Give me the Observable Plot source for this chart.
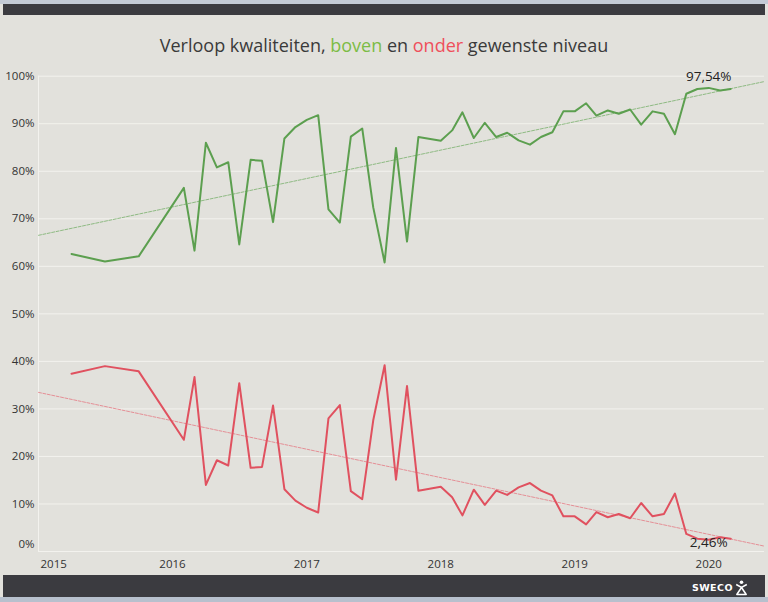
<!DOCTYPE html>
<html>
<head>
<meta charset="utf-8">
<script src="https://cdn.jsdelivr.net/npm/d3@7"></script>
<script src="https://cdn.jsdelivr.net/npm/@observablehq/plot@0.6"></script>
<style>
  html, body { margin: 0; padding: 0; }
  body { width: 768px; height: 602px; background: #e2e1dc; position: relative; overflow: hidden; font-family: "Open Sans", sans-serif; }
  #topline { position: absolute; left: 0; top: 0; width: 768px; height: 4px; background: #c3cad5; }
  #topbar { position: absolute; left: 3px; top: 4px; width: 762px; height: 11px; background: #3b3b40; }
  #title { position: absolute; left: 0; top: 32px; width: 768px; text-align: center; font-size: 18px; line-height: 26px; color: #3a3a3a; }
  #title .g { color: #7cbc45; }
  #title .r { color: #ef4f5b; }
  #chart { position: absolute; left: 0; top: 20px; }
  #botbar { position: absolute; left: 3px; top: 575px; width: 762px; height: 22px; background: #3b3b40; }
  #botline { position: absolute; left: 0; top: 597px; width: 768px; height: 5px; background: #b7c0cd; }
  #logo { position: absolute; left: 692px; top: 582px; color: #fff; font-weight: bold; font-size: 9.5px; letter-spacing: 0.4px; font-family: "DejaVu Sans", sans-serif; }
  #icon { position: absolute; left: 735px; top: 580px; }
</style>
</head>
<body>
<div id="topline"></div>
<div id="topbar"></div>
<div id="title">Verloop kwaliteiten, <span class="g">boven</span> en <span class="r">onder</span> gewenste niveau</div>
<div id="chart"></div>
<div id="botbar"></div>
<div id="botline"></div>
<div id="logo">SWECO</div>
<svg id="icon" width="13" height="16" viewBox="0 0 13 16">
  <circle cx="6.5" cy="2.2" r="1.8" fill="#fff"/>
  <path d="M1.2 4.5 L6.5 7.5 L11.8 4.5" stroke="#fff" stroke-width="1.5" fill="none"/>
  <path d="M6.5 7.5 L1.8 14.5 L11.2 14.5 Z" stroke="#fff" stroke-width="1.5" fill="none" stroke-linejoin="round"/>
</svg>
<script>
// ---- data ----
const months = [
  "2015-04","2015-07","2015-10",
  "2016-02","2016-03","2016-04","2016-05","2016-06","2016-07","2016-08","2016-09","2016-10","2016-11","2016-12",
  "2017-01","2017-02","2017-03","2017-04","2017-05","2017-06","2017-07","2017-08","2017-09","2017-10","2017-11",
  "2018-01","2018-02","2018-03","2018-04","2018-05","2018-06","2018-07","2018-08","2018-09","2018-10","2018-11","2018-12",
  "2019-01","2019-02","2019-03","2019-04","2019-05","2019-06","2019-07","2019-08","2019-09","2019-10","2019-11","2019-12",
  "2020-01","2020-02","2020-03"
];
const boven = [
  62.6, 61.0, 62.1,
  76.5, 63.3, 86.0, 80.8, 81.9, 64.6, 82.4, 82.2, 69.3, 86.9, 89.3,
  90.8, 91.8, 72.0, 69.2, 87.3, 89.0, 72.4, 60.8, 84.9, 65.2, 87.2,
  86.4, 88.6, 92.4, 87.0, 90.2, 87.2, 88.1, 86.5, 85.6, 87.2, 88.2, 92.6,
  92.6, 94.3, 91.7, 92.8, 92.1, 93.0, 89.8, 92.6, 92.1, 87.8, 96.3, 97.3,
  97.54, 97.0, 97.3
];
const onder = [
  37.4, 39.0, 37.9,
  23.5, 36.7, 14.0, 19.2, 18.1, 35.4, 17.6, 17.8, 30.7, 13.1, 10.7,
  9.2, 8.2, 28.0, 30.8, 12.7, 11.0, 27.6, 39.2, 15.1, 34.8, 12.8,
  13.6, 11.4, 7.6, 13.0, 9.8, 12.8, 11.9, 13.5, 14.4, 12.8, 11.8, 7.4,
  7.4, 5.7, 8.3, 7.2, 7.9, 7.0, 10.2, 7.4, 7.9, 12.2, 3.7, 2.7,
  2.46, 3.0, 2.7
];
const yTicks = [0, 10, 20, 30, 40, 50, 60, 70, 80, 90, 100];
const xTickYears = ["2015", "2016", "2017", "2018", "2019", "2020"];
const xDomain = ["2015-01-01", "2020-06-01"];
const labelMonth = "2020-01";
const labelBoven = 97.54;
const labelOnder = 2.46;

// ---- build ----
const parseM = d3.utcParse("%Y-%m");
const parseY = d3.utcParse("%Y");
const parseD = d3.utcParse("%Y-%m-%d");
const dom = xDomain.map(parseD);
const rows = months.map((m, i) => ({date: parseM(m), boven: boven[i], onder: onder[i]}));

function trend(key) {
  const xs = rows.map(r => +r.date), ys = rows.map(r => r[key]);
  const mx = d3.mean(xs), my = d3.mean(ys);
  let num = 0, den = 0;
  for (let i = 0; i < xs.length; i++) { num += (xs[i]-mx)*(ys[i]-my); den += (xs[i]-mx)**2; }
  const b = num/den, a = my - b*mx;
  return dom.map(d => ({date: d, v: a + b*(+d)}));
}
const trendB = trend("boven"), trendO = trend("onder");
const fmtPct = v => v.toFixed(2).replace(".", ",") + "%";
const xt = xTickYears.map(parseY);

const green = "#5c9f4f", red = "#e0515f";
const grid = "#f3f2ee";
const font = "Open Sans";
const fs = 11.5;

const chart = Plot.plot({
  width: 768,
  height: 555,
  marginLeft: 38,
  marginRight: 4,
  marginTop: 55.7,
  marginBottom: 24,
  x: {type: "utc", domain: dom},
  y: {domain: [0, 100]},
  style: {background: "transparent", fontFamily: font, fontSize: fs + "px", color: "#333"},
  marks: [
    Plot.gridY(yTicks, {stroke: grid, strokeOpacity: 1, strokeWidth: 1}),
    Plot.ruleX([dom[0]], {stroke: grid, strokeWidth: 1}),
    Plot.axisY(yTicks.filter(d => d > 0), {tickSize: 0, tickPadding: 4, tickFormat: d => d + "%", fontSize: fs, label: null}),
    Plot.axisY([0], {tickSize: 0, tickPadding: 4, tickFormat: d => d + "%", fontSize: fs, dy: -7, label: null}),
    Plot.axisX(xt.slice(1), {tickSize: 0, tickPadding: 8, tickFormat: "%Y", fontSize: fs, label: null}),
    Plot.axisX(xt.slice(0, 1), {tickSize: 0, tickPadding: 8, tickFormat: "%Y", fontSize: fs, textAnchor: "start", dx: 2, label: null}),
    Plot.line(trendB, {x: "date", y: "v", stroke: "#79b06c", strokeWidth: 0.8, strokeDasharray: "3,1.5"}),
    Plot.line(trendO, {x: "date", y: "v", stroke: "#e57a84", strokeWidth: 0.8, strokeDasharray: "3,1.5"}),
    Plot.line(rows, {x: "date", y: "boven", stroke: green, strokeWidth: 2}),
    Plot.line(rows, {x: "date", y: "onder", stroke: red, strokeWidth: 2}),
    Plot.text([{date: parseM(labelMonth), v: labelBoven}], {x: "date", y: "v", text: d => fmtPct(d.v), dy: -11, fontSize: 13.5, fill: "#222"}),
    Plot.text([{date: parseM(labelMonth), v: labelOnder}], {x: "date", y: "v", text: d => fmtPct(d.v), dy: 3, fontSize: 13.5, fill: "#222"})
  ]
});
document.getElementById("chart").appendChild(chart);
</script>
</body>
</html>
